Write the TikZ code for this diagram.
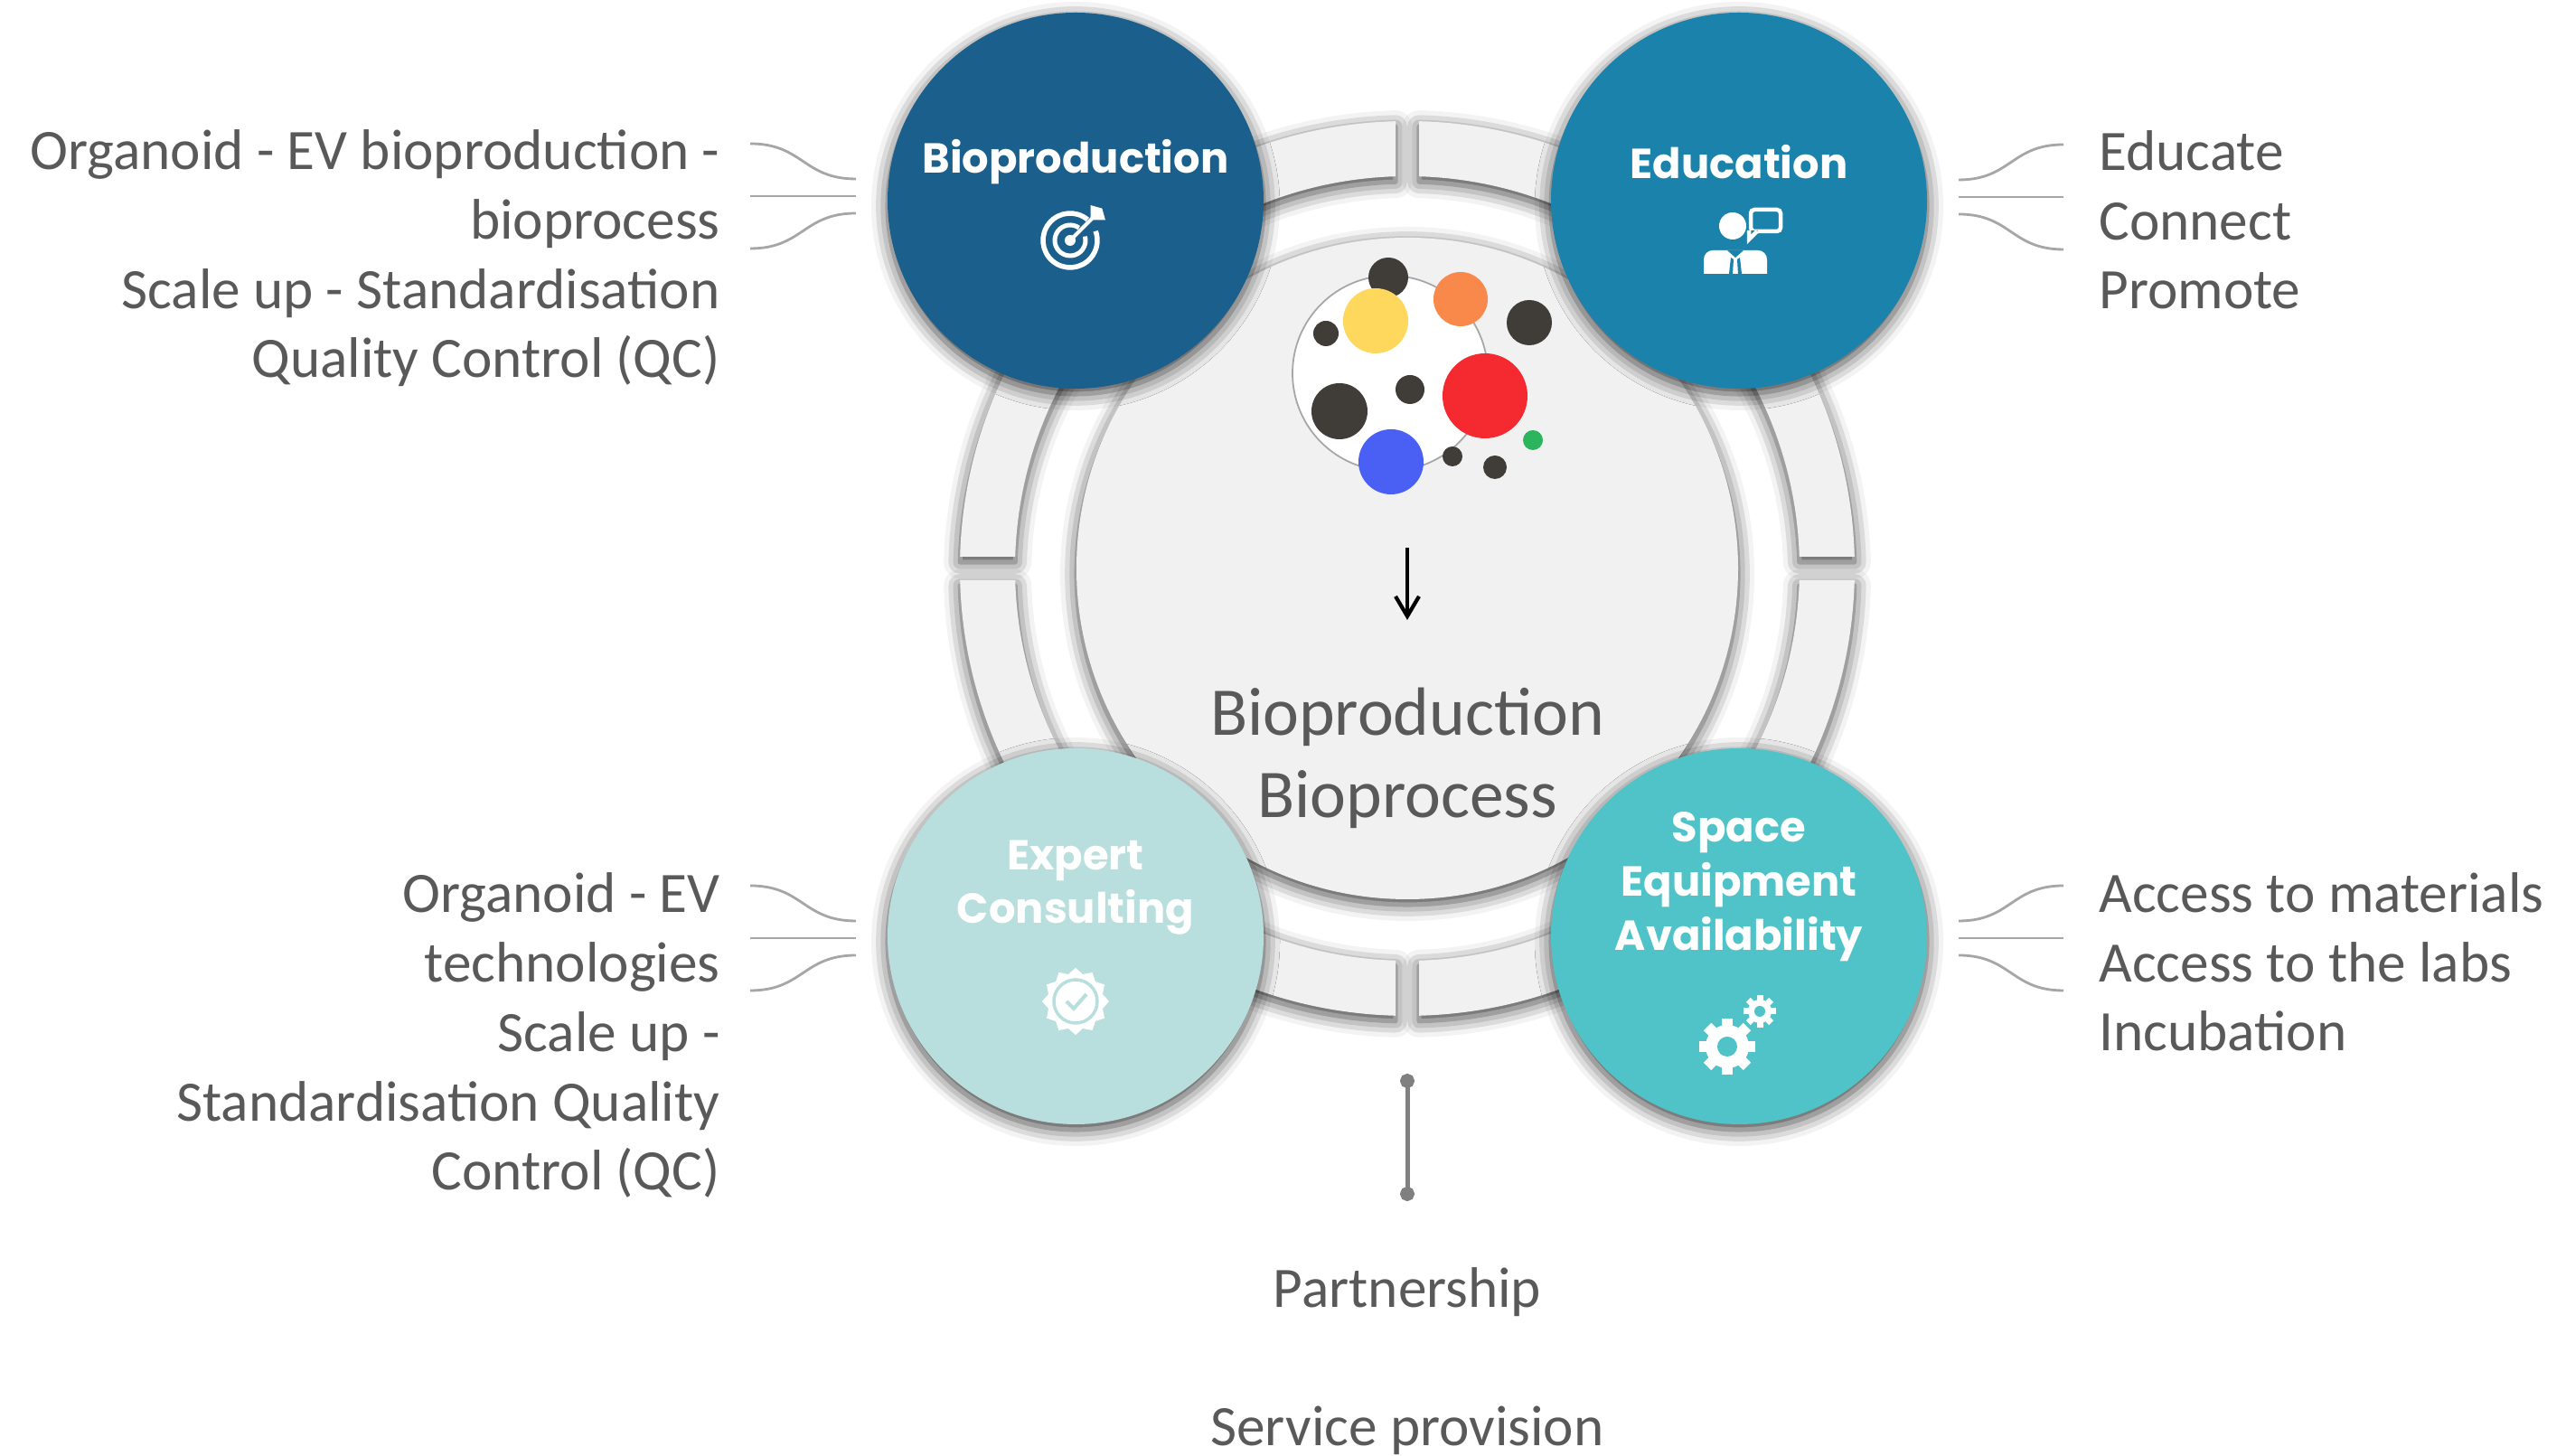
\documentclass[tikz,border=0pt]{standalone}
\usepackage{fontspec}
\setmainfont{Carlito}
\newfontfamily\headfont{Poppins}
\usetikzlibrary{arrows.meta,shadows.blur}

\definecolor{bioblue}{HTML}{1B5F8C}
\definecolor{edublue}{HTML}{1A82AB}
\definecolor{expteal}{HTML}{B8DFDD}
\definecolor{spcteal}{HTML}{50C3C8}
\definecolor{ringgray}{HTML}{F1F1F1}
\definecolor{txtgray}{HTML}{595959}
\definecolor{fangray}{HTML}{A6A6A6}
\definecolor{dotdark}{HTML}{403C38}

\tikzset{
  softshadow/.style={blur shadow={shadow xshift=0pt, shadow yshift=-0.06cm,
      shadow blur radius=0.18cm, shadow opacity=75}},
  pillar/.style={circle, minimum size=4.16cm, inner sep=0pt, softshadow},
  headtext/.style={text=white, align=center,
      font=\headfont\bfseries\fontsize{13.2}{17}\selectfont},
  sidetext/.style={text=txtgray, font=\fontsize{18}{21.9}\selectfont},
  fan/.style={draw=fangray, line width=0.8pt},
  blob/.style={circle, inner sep=0pt, fill=dotdark},
}

\begin{document}
\begin{tikzpicture}
\useasboundingbox (0,0) rectangle (28.39,16.11);

\def\cx{15.57}
\def\cy{9.82}
\def\dx{3.67}
\def\dy{4.07}
\def\Ro{4.95}
\def\Ri{4.34}
\def\gap{0.13}

% ring, cut into quarters
\begin{scope}[shift={(\cx,\cy)}]
\foreach \a in {0,90,180,270} {
  \pgfmathsetmacro{\dO}{asin(\gap/\Ro)}
  \pgfmathsetmacro{\dI}{asin(\gap/\Ri)}
  \fill[ringgray, softshadow] (\a+\dO:\Ro)
    arc[start angle=\a+\dO, end angle=\a+90-\dO, radius=\Ro]
    -- (\a+90-\dI:\Ri)
    arc[start angle=\a+90-\dI, end angle=\a+\dI, radius=\Ri] -- cycle;
}
\end{scope}

% hub
\node[circle, minimum size=7.32cm, inner sep=0pt, fill=ringgray, softshadow] (hub) at (\cx,\cy) {};

% the four pillars
\node[pillar, fill=bioblue] (bio) at (\cx-\dx,\cy+\dy) {};
\node[pillar, fill=edublue] (edu) at (\cx+\dx,\cy+\dy) {};
\node[pillar, fill=expteal] (exp) at (\cx-\dx,\cy-\dy) {};
\node[pillar, fill=spcteal] (spc) at (\cx+\dx,\cy-\dy) {};

\node[headtext] (biot) at ([yshift=0.43cm]bio.center) {Bioproduction};
\node[headtext] (edut) at ([yshift=0.43cm]edu.center) {Education};
\node[headtext] (expt) at ([yshift=0.54cm]exp.center) {Expert\\Consulting};
\node[headtext] (spct) at ([yshift=0.55cm]spc.center) {Space\\Equipment\\Availability};

% cells in the hub
\node[circle, minimum size=2.16cm, inner sep=0pt, fill=white, draw=gray!70, line width=0.5pt] (drop) at (15.38,11.98) {};
\node[blob, minimum size=0.44cm] (d1) at (15.36,13.04) {};
\node[blob, minimum size=0.28cm] (d2) at (14.67,12.42) {};
\node[blob, minimum size=0.50cm] (d3) at (16.92,12.54) {};
\node[blob, minimum size=0.62cm] (d4) at (14.82,11.56) {};
\node[blob, minimum size=0.32cm] (d5) at (15.60,11.80) {};
\node[blob, minimum size=0.22cm] (d6) at (16.07,11.06) {};
\node[blob, minimum size=0.26cm] (d7) at (16.54,10.94) {};
\node[blob, minimum size=0.72cm, fill={rgb,255:red,253;green,216;blue,93}] (ylw) at (15.22,12.56) {};
\node[blob, minimum size=0.60cm, fill={rgb,255:red,249;green,137;blue,74}] (org) at (16.16,12.80) {};
\node[blob, minimum size=0.94cm, fill={rgb,255:red,245;green,42;blue,49}] (red) at (16.43,11.73) {};
\node[blob, minimum size=0.72cm, fill={rgb,255:red,74;green,96;blue,245}] (blu) at (15.39,11.00) {};
\node[blob, minimum size=0.22cm, fill={rgb,255:red,45;green,181;blue,93}] (grn) at (16.96,11.24) {};

\coordinate (ar1) at (15.57,10.05);
\coordinate (ar2) at (15.57,9.25);
\draw[line width=1.2pt, -{Straight Barb[length=0.22cm, width=0.26cm]}] (ar1) -- (ar2);

\node[text=txtgray, align=center, font=\fontsize{21.5}{26}\selectfont] (hubt) at (\cx,7.72) {Bioproduction\\Bioprocess};

% side notes (base = last line)
\node[sidetext, align=right, anchor=base east] (biotx) at (8.09,11.93)
  {Organoid - EV bioproduction -\\bioprocess\\Scale up - Standardisation\\Quality Control (QC)};
\node[sidetext, align=left, anchor=base west] (edutx) at (23.10,12.69)
  {Educate\\Connect\\Promote};
\node[sidetext, align=right, anchor=base east] (exptx) at (8.09,2.94)
  {Organoid - EV\\technologies\\Scale up -\\Standardisation Quality\\Control (QC)};
\node[sidetext, align=left, anchor=base west] (spctx) at (23.10,4.48)
  {Access to materials\\Access to the labs\\Incubation};

% fans between notes and pillars
\foreach \n/\xa/\xb/\ym in {fb/8.30/9.47/13.94, fe/22.83/21.67/13.93,
                            fx/8.30/9.47/5.73, fs/22.83/21.67/5.73} {
  \coordinate (\n t1) at (\xa,\ym+0.58);
  \coordinate (\n c1) at (\xb,\ym+0.19);
  \coordinate (\n t2) at (\xa,\ym);
  \coordinate (\n c2) at (\xb,\ym);
  \coordinate (\n t3) at (\xa,\ym-0.58);
  \coordinate (\n c3) at (\xb,\ym-0.19);
  \draw[fan] (\n t1) .. controls ({(\xa+\xb)/2},\ym+0.58) and ({(\xa+\xb)/2},\ym+0.19) .. (\n c1);
  \draw[fan] (\n t2) -- (\n c2);
  \draw[fan] (\n t3) .. controls ({(\xa+\xb)/2},\ym-0.58) and ({(\xa+\xb)/2},\ym-0.19) .. (\n c3);
}

% bottom link
\coordinate (pa) at (\cx,4.23);
\coordinate (pb) at (\cx,2.82);
\draw[draw=gray, line width=0.05cm, {Circle[length=0.16cm]}-{Circle[length=0.16cm]}] (pa) -- (pb);
\node[sidetext, anchor=base] (part) at (\cx,1.64) {Partnership};
\node[sidetext, anchor=base] (serv) at (\cx,0.11) {Service provision};

% icons
\begin{scope}[shift={(11.84,13.45)}, white]
  \draw[line width=0.055cm] (50:0.30) arc[start angle=50, end angle=380, radius=0.30];
  \draw[line width=0.05cm] (55:0.17) arc[start angle=55, end angle=375, radius=0.17];
  \fill (0,0) circle (0.06);
  \draw[line width=0.04cm] (0,0) -- (45:0.40);
  \fill (45:0.32) -- (30:0.45) -- (45:0.50) -- (60:0.45) -- cycle;
\end{scope}

\begin{scope}[white]
  \fill (19.17,13.61) circle (0.15);
  \draw[fill=edublue, line width=0.045cm, rounded corners=0.04cm]
    (19.37,13.79) rectangle (19.70,13.55);
  \fill[edublue] (19.37,13.56) -- (19.45,13.56) -- (19.35,13.46) -- cycle;
  \draw[line width=0.045cm] (19.44,13.55) -- (19.35,13.46) -- (19.35,13.56);
  \fill[rounded corners=0.1cm] (18.85,13.08) -- (18.85,13.34) -- (19.55,13.34) -- (19.55,13.08);
  \fill (18.85,13.08) rectangle (19.55,13.2);
  \fill[edublue] (19.11,13.34) -- (19.29,13.34) -- (19.2,13.26) -- cycle;
  \fill[edublue] (19.15,13.26) -- (19.13,13.08) -- (19.17,13.08) -- (19.18,13.24) -- cycle;
  \fill[edublue] (19.25,13.26) -- (19.27,13.08) -- (19.23,13.08) -- (19.22,13.24) -- cycle;
\end{scope}

\begin{scope}[shift={(11.90,5.03)}]
  \fill[white] (0:0.37) \foreach \k in {0,...,11} { -- ({\k*30}:0.37) -- ({\k*30+15}:0.31) } -- cycle;
  \draw[expteal, line width=0.035cm] (0,0) circle (0.24);
  \draw[expteal, line width=0.04cm] (-0.1,0.0) -- (-0.02,-0.08) -- (0.12,0.08);
\end{scope}

\begin{scope}[shift={(19.11,4.53)}, white]
  \fill (0,0) circle (0.24);
  \foreach \a in {0,45,...,315} \fill[rotate=\a] (-0.06,0.2) rectangle (0.06,0.31);
  \fill[spcteal] (0,0) circle (0.11);
\end{scope}
\begin{scope}[shift={(19.47,4.92)}, white]
  \fill (0,0) circle (0.13);
  \foreach \a in {0,45,...,315} \fill[rotate=\a] (-0.035,0.1) rectangle (0.035,0.18);
  \fill[spcteal] (0,0) circle (0.06);
\end{scope}

\end{tikzpicture}
\end{document}
